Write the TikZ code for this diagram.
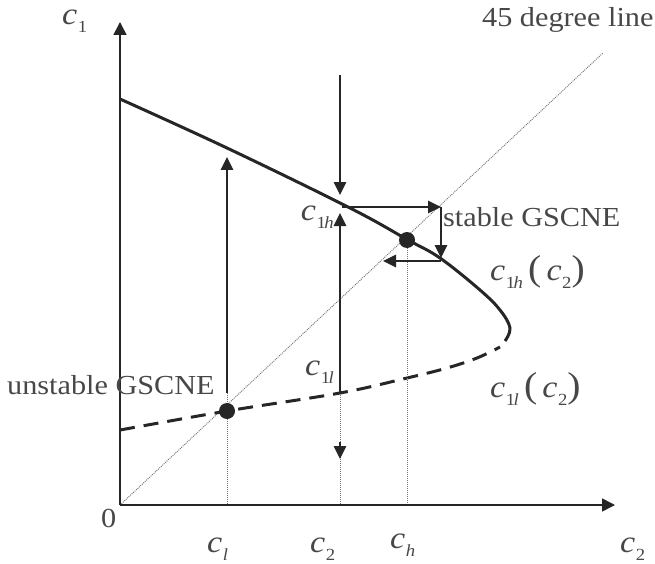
\documentclass[tikz,border=0pt]{standalone}
\usepackage{fontspec}
\setmainfont{Liberation Serif}
\newfontfamily\labfont[FakeStretch=1.1]{Liberation Serif}
\usetikzlibrary{arrows.meta}
\colorlet{ink}{black!85}
\colorlet{txt}{black!72}
\newcommand\cvar[1]{\textit{c}\kern0.5pt\raisebox{-8pt}{\fontsize{17}{17}\selectfont #1}}
\newcommand\bigpar[1]{{\fontsize{36}{36}\selectfont #1}}
\newcommand\oneh{1\kern-1.5pt\textit{h}}
\newcommand\onel{1\kern-1.5pt\textit{l}}
\begin{document}
\begin{tikzpicture}[x=1pt,y=-1pt,
  axis/.style={line width=1.6pt, draw=ink, -{Triangle[length=13pt,width=13pt]}},
  flow/.style={line width=1.3pt, draw=ink, -{Triangle[length=13pt,width=12.5pt]}},
  dotline/.style={line width=0.9pt, draw=black!55, dash pattern=on 1pt off 1pt},
  curvehi/.style={line width=3pt, draw=ink},
  curvelo/.style={line width=3pt, draw=ink, dash pattern=on 15pt off 9pt},
  eqdot/.style={circle, fill=ink, minimum size=16pt, inner sep=0pt},
  lab/.style={text=txt, font=\labfont\fontsize{31}{33}\selectfont, inner sep=0pt, anchor=base west},
  txtlab/.style={text=txt, font=\labfont\fontsize{27.5}{30}\selectfont, inner sep=0pt, anchor=base west}]
\useasboundingbox (0,0) rectangle (655,564);

% key points
\coordinate (O) at (120,505);
\coordinate (Ytip) at (120,22);
\coordinate (Xtip) at (615,505);
\coordinate (Dend) at (603,53);
\coordinate (Ltop) at (227,157);
\coordinate (Lbot) at (227,393);
\coordinate (Lax) at (227,505);
\coordinate (Mtop) at (340,75);
\coordinate (Mhi) at (340,195);
\coordinate (Mhi2) at (340,213);
\coordinate (Mlo) at (340,393);
\coordinate (Mpre) at (340,442);
\coordinate (Mdn) at (340,459);
\coordinate (Max) at (340,505);
\coordinate (Hs) at (342,207);
\coordinate (He) at (441,207);
\coordinate (Ve) at (441,258);
\coordinate (Ls) at (441,261);
\coordinate (Le) at (383,261);
\coordinate (Sax) at (407,505);

% 45 degree line
\draw[dotline] (O) -- (Dend);

% dotted verticals
\draw[dotline] (Lbot) -- (Lax);
\draw[dotline] (Mlo) -- (Max);

% curves
\draw[curvehi] plot[smooth, tension=0.6] coordinates {(120,99) (227,148) (350,208) (408,240) (440,258) (480,290) (500,310) (510,328) (505,341)};
\draw[curvelo] plot[smooth, tension=0.6] coordinates {(120,430) (227,411) (340,393) (407,378) (447,368) (477,358) (500,347)};

% equilibria
\node[eqdot] (S) at (407,240) {};
\node[eqdot] (U) at (227,411) {};
\draw[dotline] (S) -- (Sax);
\draw[dotline] (U) -- (Lax);

% axes
\draw[axis] (O) -- (Ytip);
\draw[axis] (O) -- (Xtip);

% dynamics arrows
\draw[flow] (Lbot) -- (Ltop);
\draw[flow] (Mtop) -- (Mhi);
\draw[flow] (Mlo) -- (Mhi2);
\draw[flow] (Mpre) -- (Mdn);
\draw[flow] (Hs) -- (He);
\draw[flow] (He) -- (Ve);
\draw[flow] (Ls) -- (Le);

% labels
\node[lab] (lc1) at (62,25) {\cvar{1}};
\node[txtlab] (l45) at (482,27) {45 degree line};
\node[lab, anchor=base east] (lc1h) at (334,220) {\cvar{\oneh}};
\node[txtlab] (lst) at (443,226) {stable GSCNE};
\node[lab] (lfh) at (490,280) {\cvar{\oneh}\,\bigpar{(}\,\cvar{2}\bigpar{)}};
\node[lab] (lfl) at (490,397) {\cvar{\onel}\,\bigpar{(}\,\cvar{2}\bigpar{)}};
\node[txtlab] (lun) at (7,394) {unstable GSCNE};
\node[lab, anchor=base east] (lc1l) at (334,375) {\cvar{\onel}};
\node[txtlab] (l0) at (101,527) {0};
\node[lab] (lcl) at (207,552) {\cvar{\textit{l}}};
\node[lab] (lc2m) at (310,552) {\cvar{2}};
\node[lab] (lch) at (390,548) {\cvar{\textit{h}}};
\node[lab] (lc2r) at (620,552) {\cvar{2}};
\end{tikzpicture}
\end{document}
